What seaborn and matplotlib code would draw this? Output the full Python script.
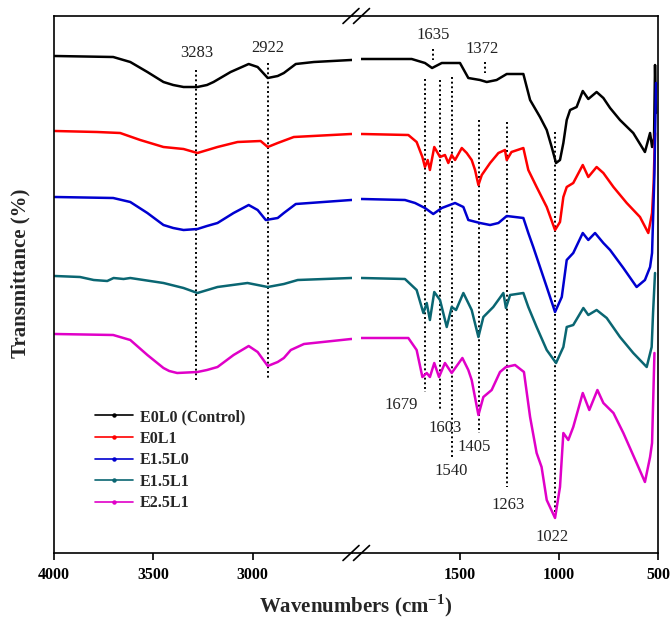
import matplotlib
matplotlib.use("Agg")
import matplotlib.pyplot as plt
from matplotlib.lines import Line2D
import pandas as pd
import seaborn as sns

# ---- spectra (transmittance, arbitrary offset units) ----
samples = ["E0L0 (Control)", "E0L1", "E1.5L0", "E1.5L1", "E2.5L1"]
colors = ["#000000", "#FF0000", "#0000D0", "#0A6672", "#E000C8"]

wn_e0l0 = [3995, 3702, 3616, 3530, 3449, 3400, 3348, 3278, 3230, 3197, 3111, 3020, 2975,
           2924, 2874, 2843, 2783, 2692, 2505,
           1996, 1744, 1677, 1641, 1592, 1500, 1458, 1399, 1365, 1315, 1264, 1180, 1163,
           1146, 1096, 1062, 1037, 1015, 995, 978, 961, 944, 911, 880, 852, 810, 776, 742,
           692, 625, 566, 540, 530, 520, 515, 510]
t_e0l0 = [497, 496, 491, 481, 471, 468, 466, 466, 468, 471, 481, 489, 486,
          475, 477, 480, 489, 491, 493,
          494, 494, 490, 485, 490, 490, 475, 473, 471, 473, 479, 479, 466,
          453, 436, 423, 406, 390, 393, 410, 433, 443, 446, 462, 454, 461, 455, 445,
          433, 420, 401, 420, 406, 415, 488, 440]

wn_e0l1 = [3995, 3783, 3667, 3566, 3449, 3348, 3278, 3177, 3076, 2960, 2924, 2874, 2793, 2505,
           1996, 1761, 1719, 1690, 1677, 1663, 1652, 1630, 1601, 1576, 1559, 1542, 1525,
           1491, 1466, 1441, 1424, 1407, 1390, 1348, 1306, 1273, 1264, 1240, 1180, 1155,
           1113, 1062, 1020, 995, 978, 961, 928, 880, 852, 810, 776, 725, 658, 591, 549,
           530, 522, 515]
t_e0l1 = [422, 421, 420, 413, 406, 404, 400, 406, 411, 412, 406, 410, 416, 419,
          419, 418, 411, 396, 386, 393, 383, 406, 396, 398, 390, 398, 393,
          405, 400, 393, 383, 368, 378, 390, 400, 403, 393, 401, 405, 383,
          366, 346, 323, 331, 356, 366, 370, 388, 376, 386, 380, 366, 350, 336, 320,
          340, 370, 420]

wn_e15l0 = [3995, 3702, 3616, 3530, 3449, 3400, 3348, 3278, 3230, 3177, 3096, 3020, 2975,
            2934, 2874, 2843, 2783, 2505,
            1996, 1778, 1727, 1677, 1635, 1592, 1525, 1483, 1458, 1399, 1348, 1306, 1264,
            1180, 1155, 1130, 1096, 1062, 1020, 986, 961, 928, 880, 852, 818, 776, 742,
            675, 608, 566, 540, 530, 518, 510]
t_e15l0 = [356, 355, 351, 340, 328, 325, 323, 324, 327, 330, 340, 348, 343,
           333, 335, 340, 349, 353,
           354, 353, 350, 345, 339, 345, 350, 346, 333, 330, 328, 330, 337,
           335, 320, 306, 286, 266, 241, 256, 293, 300, 320, 313, 320, 310, 303,
           285, 266, 273, 286, 300, 380, 470]

wn_e15l1 = [3995, 3869, 3800, 3732, 3700, 3650, 3616, 3449, 3348, 3278, 3177, 3026, 2924,
            2843, 2773, 2505,
            1996, 1778, 1719, 1685, 1668, 1652, 1630, 1601, 1567, 1542, 1520, 1483, 1441,
            1407, 1382, 1332, 1281, 1268, 1247, 1180, 1155, 1113, 1062, 1015, 978, 961,
            928, 877, 852, 810, 759, 692, 625, 557, 532, 525, 515]
t_e15l1 = [277, 276, 273, 272, 275, 274, 275, 270, 265, 260, 266, 270, 266,
           269, 273, 275,
           275, 274, 263, 240, 250, 233, 261, 253, 226, 246, 243, 260, 243,
           216, 236, 246, 260, 245, 258, 260, 246, 226, 203, 190, 206, 226,
           228, 245, 238, 243, 235, 216, 200, 186, 206, 240, 280]

wn_e25l1 = [3995, 3702, 3616, 3530, 3449, 3420, 3380, 3278, 3230, 3177, 3096, 3020, 2975,
            2924, 2874, 2843, 2808, 2742, 2505,
            1996, 1761, 1719, 1690, 1668, 1652, 1630, 1606, 1576, 1542, 1488, 1458, 1441,
            1407, 1382, 1340, 1298, 1268, 1222, 1177, 1146, 1113, 1088, 1062, 1020, 995,
            978, 953, 928, 880, 847, 806, 776, 725, 675, 608, 566, 540, 530, 518]
t_e25l1 = [219, 218, 213, 198, 185, 182, 180, 181, 183, 186, 198, 207, 201,
           187, 191, 195, 203, 209, 214,
           215, 215, 203, 176, 180, 176, 190, 176, 190, 180, 195, 183, 173,
           138, 156, 163, 181, 186, 188, 181, 136, 100, 86, 53, 35, 66,
           120, 113, 126, 160, 143, 163, 150, 140, 120, 90, 71, 96, 110, 200]

wn_all = [wn_e0l0, wn_e0l1, wn_e15l0, wn_e15l1, wn_e25l1]
t_all = [t_e0l0, t_e0l1, t_e15l0, t_e15l1, t_e25l1]

# band assignments marked on the plot
peaks = [3283, 2922, 1635, 1372, 1679, 1603, 1540, 1405, 1263, 1022]
peak_labels = ["3283", "2922", "1635", "1372", "1679", "1603", "1540", "1405", "1263", "1022"]

# layout of guide lines (y-span) and label placement (x shift, y)
guide_span = {3283: (483, 171), 2922: (490, 175), 1635: (504, 493), 1372: (491, 480),
              1679: (474, 161), 1603: (473, 143), 1540: (476, 95), 1405: (433, 120),
              1263: (431, 66), 1022: (421, 36)}
label_pos = {3283: (0, 500), 2922: (0, 505), 1635: (0, 518), 1372: (15, 504),
             1679: (120, 148), 1603: (-30, 125), 1540: (5, 82), 1405: (25, 106),
             1263: (-5, 48), 1022: (12, 16)}

frames = [pd.DataFrame({"Wavenumber": w, "Transmittance": t, "Sample": s})
          for s, w, t in zip(samples, wn_all, t_all)]
df = pd.concat(frames, ignore_index=True)
palette = dict(zip(samples, colors))

sns.set_theme(style="white")
plt.rcParams["font.family"] = ["Liberation Serif", "DejaVu Serif"]
plt.rcParams["mathtext.fontset"] = "custom"
plt.rcParams["mathtext.rm"] = "Liberation Serif:bold"
plt.rcParams["mathtext.bf"] = "Liberation Serif:bold"

W, H = 671, 626
fig = plt.figure(figsize=(W / 100, H / 100), dpi=100)
fig.patch.set_facecolor("white")
ax_left = fig.add_axes([54 / W, 73 / H, 298 / W, 537 / H])
ax_right = fig.add_axes([361 / W, 73 / H, 297 / W, 537 / H])

for ax, xlim, ticks in [(ax_left, (4000, 2500), [4000, 3500, 3000]),
                        (ax_right, (2000, 500), [1500, 1000, 500])]:
    sns.lineplot(data=df, x="Wavenumber", y="Transmittance", hue="Sample",
                 palette=palette, estimator=None, sort=True, lw=1.8,
                 legend=False, ax=ax)
    ax.set_xlim(*xlim)
    ax.set_ylim(0, 537)
    ax.set_xticks(ticks)
    ax.set_yticks([])
    ax.set_xlabel("")
    ax.set_ylabel("")
    ax.tick_params(axis="x", direction="out", length=5, width=1.2, pad=5,
                   labelsize=11.5, bottom=True, colors="black")
    for lab in ax.get_xticklabels():
        lab.set_fontweight("bold")
    for sp in ax.spines.values():
        sp.set_color("black")
        sp.set_linewidth(1.2)
    ax.set_facecolor("white")

ax_left.spines["right"].set_visible(False)
ax_right.spines["left"].set_visible(False)

# guide lines and band labels
for p, lab in zip(peaks, peak_labels):
    ax = ax_left if p > 2250 else ax_right
    y0, y1 = guide_span[p]
    ax.plot([p, p], [y0, y1], color="black", lw=1.4, ls=(0, (1, 1.4)), zorder=1)
    dx, ty = label_pos[p]
    ax.text(p + dx, ty, lab, ha="center", va="center", fontsize=12, color="#222222")

# spine continuation across the break and // marks
for yp in (73, 610):
    fig.add_artist(Line2D([352 / W, 361 / W], [yp / H, yp / H], color="black", lw=1.2))
    for cx in (351, 361.5):
        fig.add_artist(Line2D([(cx - 8) / W, (cx + 8) / W],
                              [(yp - 7.5) / H, (yp + 7.5) / H], color="black", lw=1.2))

# legend
handles = [Line2D([], [], color=c, lw=1.2, marker="o", ms=2.2) for c in colors]
ax_left.legend(handles, samples, loc="upper left", bbox_to_anchor=(0.1376, 0.268),
               frameon=False, borderpad=0, borderaxespad=0, handlelength=2.4,
               handletextpad=0.4, labelspacing=0.35,
               prop={"family": "Liberation Serif", "weight": "bold", "size": 11.5})

fig.text(356 / W, 20 / H, r"Wavenumbers (cm$^{\mathbf{-1}}$)", ha="center", va="center",
         fontsize=15, fontweight="bold")
fig.text(20 / W, (626 - 273) / H, "Transmittance (%)", rotation=90, ha="center",
         va="center", fontsize=15, fontweight="bold")

fig.savefig("out.png", dpi=100, facecolor="white")
